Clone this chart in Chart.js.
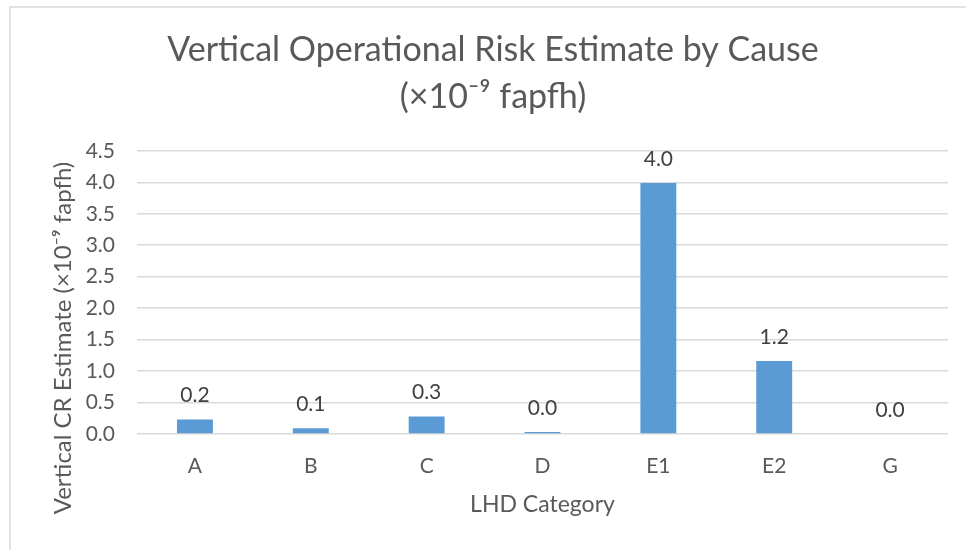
<!DOCTYPE html>
<html>
<head>
<meta charset="utf-8">
<script src="https://cdn.jsdelivr.net/npm/chart.js@4"></script>
<style>
html,body{margin:0;padding:0;background:#fff;}
#wrap{position:absolute;left:0;top:0;width:966px;height:550px;}
</style>
</head>
<body>
<div id="wrap"><canvas id="c" width="966" height="550"></canvas></div>
<script>
const categories = ["A", "B", "C", "D", "E1", "E2", "G"];
const riskValues = [0.23, 0.09, 0.28, 0.03, 3.99, 1.16, 0.0];
const yTickValues = [0, 0.5, 1, 1.5, 2, 2.5, 3, 3.5, 4, 4.5];
const chartTitle = ["Vertical Operational Risk Estimate by Cause", "(×10⁻⁹ fapfh)"];
const xTitle = "LHD Category";
const yTitle = "Vertical CR Estimate (×10⁻⁹ fapfh)";

const FONT = "Lato, 'Open Sans', sans-serif";
const TEXT = "#595959";

const framePlugin = {
  id: "frame",
  beforeDraw(chart) {
    const ctx = chart.ctx;
    ctx.save();
    ctx.fillStyle = "#fff";
    ctx.fillRect(0, 0, chart.width, chart.height);
    ctx.strokeStyle = "#d9d9d9";
    ctx.lineWidth = 1.5;
    ctx.beginPath();
    ctx.moveTo(10, chart.height);
    ctx.lineTo(10, 7);
    ctx.lineTo(chart.width, 7);
    ctx.stroke();
    ctx.restore();
  }
};

const labelPlugin = {
  id: "barLabels",
  afterDatasetsDraw(chart) {
    const ctx = chart.ctx;
    const meta = chart.getDatasetMeta(0);
    ctx.save();
    ctx.font = "21px " + FONT;
    ctx.fillStyle = "#404040";
    ctx.textAlign = "center";
    ctx.textBaseline = "middle";
    meta.data.forEach((el, i) => {
      ctx.fillText(riskValues[i].toFixed(1), el.x, el.y - 24);
    });
    // y axis title
    ctx.font = "24px " + FONT;
    ctx.fillStyle = TEXT;
    ctx.translate(63, 338);
    ctx.rotate(-Math.PI / 2);
    ctx.fillText(yTitle, 0, 0);
    ctx.restore();
  }
};

new Chart(document.getElementById("c"), {
  type: "bar",
  data: {
    labels: categories,
    datasets: [{
      data: riskValues,
      backgroundColor: "#5b9bd5",
      barPercentage: 0.62,
      categoryPercentage: 0.5
    }]
  },
  options: {
    responsive: false,
    animation: false,
    events: [],
    layout: { padding: { left: 38, right: 18, top: 0, bottom: 0 } },
    plugins: {
      legend: { display: false },
      tooltip: { enabled: false },
      title: {
        display: true,
        text: chartTitle,
        color: TEXT,
        font: { family: FONT, size: 34, weight: "normal", lineHeight: 1.38 },
        padding: { top: 26.5, bottom: 30.5 }
      }
    },
    scales: {
      x: {
        afterFit(scale) { scale.height = 116; },
        grid: { display: false, drawTicks: false },
        border: { display: false },
        ticks: { color: TEXT, font: { family: FONT, size: 21 }, padding: 20 },
        title: { display: true, text: xTitle, color: TEXT, font: { family: FONT, size: 23 }, padding: { top: 12, bottom: 32 } }
      },
      y: {
        min: 0,
        max: 4.5,
        afterBuildTicks(scale) { scale.ticks = yTickValues.map(v => ({ value: v })); },
        afterFit(scale) { scale.width = 99; },
        grid: { color: "#d9d9d9", lineWidth: 1.5, drawTicks: false },
        border: { display: false },
        ticks: {
          color: TEXT,
          font: { family: FONT, size: 21 },
          padding: 22,
          callback: v => Number(v).toFixed(1)
        }
      }
    }
  },
  plugins: [framePlugin, labelPlugin]
});
</script>
</body>
</html>
